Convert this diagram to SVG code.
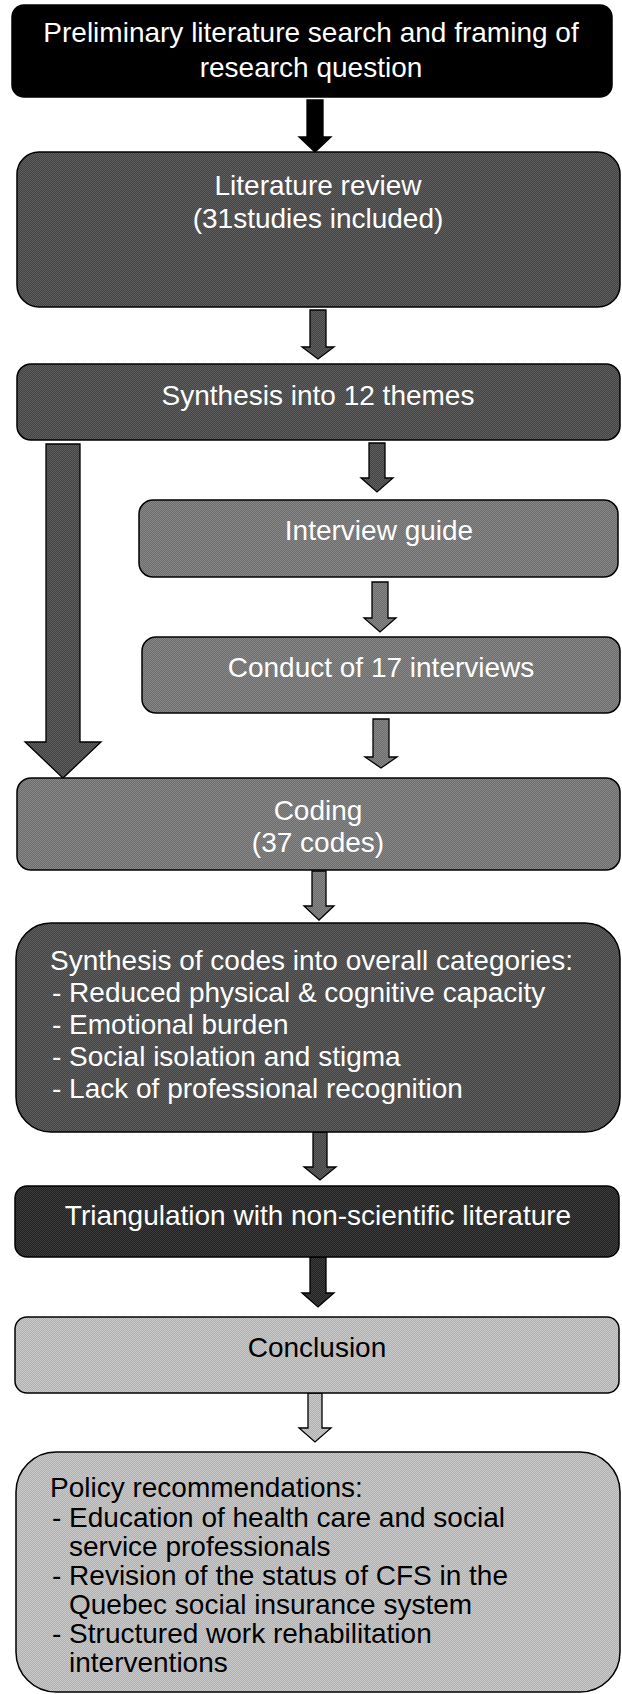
<svg xmlns="http://www.w3.org/2000/svg" width="622" height="1694" viewBox="0 0 622 1694">
<style>
.box{stroke:#000;stroke-width:1.5}
.t{font-family:"Liberation Sans",Arial,sans-serif;font-size:28px}
.w{fill:#fff}
.k{fill:#000}
.c{text-anchor:middle}
.arr{stroke:#000;stroke-width:1.3;stroke-linejoin:miter}
</style>
<defs>
<pattern id="pDark" width="2" height="2" patternUnits="userSpaceOnUse"><rect width="2" height="2" fill="#444"/><rect width="1" height="1" fill="#5e5e5e"/><rect x="1" y="1" width="1" height="1" fill="#5e5e5e"/></pattern>
<pattern id="pMid" width="2" height="2" patternUnits="userSpaceOnUse"><rect width="2" height="2" fill="#6c6c6c"/><rect width="1" height="1" fill="#888"/><rect x="1" y="1" width="1" height="1" fill="#888"/></pattern>
<pattern id="pLight" width="2" height="2" patternUnits="userSpaceOnUse"><rect width="2" height="2" fill="#b0b0b0"/><rect width="1" height="1" fill="#cacaca"/><rect x="1" y="1" width="1" height="1" fill="#cacaca"/></pattern>
<pattern id="pTri" width="2" height="2" patternUnits="userSpaceOnUse"><rect width="2" height="2" fill="#222"/><rect width="1" height="1" fill="#3c3c3c"/><rect x="1" y="1" width="1" height="1" fill="#3c3c3c"/></pattern>
</defs>
<rect width="622" height="1694" fill="#fff"/>
<g id="connectors">
<path class="arr" fill="#000" d="M307,100 L323,100 L323,137 L331,137 L315,152 L299,137 L307,137 Z"/>
<path class="arr" fill="url(#pDark)" d="M310,310 L326,310 L326,347 L334,347 L318,359 L302,347 L310,347 Z"/>
<path class="arr" fill="url(#pDark)" d="M46,444 L80,444 L80,742 L101,742 L63,778 L25,742 L46,742 Z"/>
<path class="arr" fill="url(#pDark)" d="M369,443 L385,443 L385,478 L393,478 L377,492 L361,478 L369,478 Z"/>
<path class="arr" fill="url(#pMid)" d="M372,582 L388,582 L388,618 L396,618 L380,632 L364,618 L372,618 Z"/>
<path class="arr" fill="url(#pMid)" d="M373,719 L389,719 L389,757 L397,757 L381,768 L365,757 L373,757 Z"/>
<path class="arr" fill="url(#pMid)" d="M312,871 L326,871 L326,906 L334,906 L319,920 L304,906 L312,906 Z"/>
<path class="arr" fill="url(#pDark)" d="M313,1132 L327,1132 L327,1167 L336,1167 L320,1180 L304,1167 L313,1167 Z"/>
<path class="arr" fill="url(#pTri)" d="M310,1257 L326,1257 L326,1293 L334,1293 L318,1307 L302,1293 L310,1293 Z"/>
<path class="arr" fill="url(#pLight)" d="M308,1393 L322,1393 L322,1428 L331,1428 L315,1442 L299,1428 L308,1428 Z"/>
</g>
<g id="n1">
<rect class="box" x="12" y="5" width="600" height="92" rx="12" fill="#000"/>
<text class="t w c" x="311" y="42">Preliminary literature search and framing of</text>
<text class="t w c" x="311" y="77">research question</text>
</g>
<g id="n2">
<rect class="box" x="17" y="152" width="603" height="155" rx="22" fill="url(#pDark)"/>
<text class="t w c" x="318" y="195">Literature review</text>
<text class="t w c" x="318" y="228">(31studies included)</text>
</g>
<g id="n3">
<rect class="box" x="17" y="364" width="603" height="76" rx="14" fill="url(#pDark)"/>
<text class="t w c" x="318" y="405">Synthesis into 12 themes</text>
</g>
<g id="n4">
<rect class="box" x="139" y="500" width="479" height="77" rx="14" fill="url(#pMid)"/>
<text class="t w c" x="379" y="540">Interview guide</text>
</g>
<g id="n5">
<rect class="box" x="142" y="637" width="478" height="76" rx="14" fill="url(#pMid)"/>
<text class="t w c" x="381" y="677">Conduct of 17 interviews</text>
</g>
<g id="n6">
<rect class="box" x="17" y="778" width="603" height="92" rx="14" fill="url(#pMid)"/>
<text class="t w c" x="318" y="820">Coding</text>
<text class="t w c" x="318" y="852">(37 codes)</text>
</g>
<g id="n7">
<rect class="box" x="16" y="923" width="604" height="209" rx="35" fill="url(#pDark)"/>
<text class="t w" x="50" y="970">Synthesis of codes into overall categories:</text>
<text class="t w" x="52" y="1002">- Reduced physical &amp; cognitive capacity</text>
<text class="t w" x="52" y="1034">- Emotional burden</text>
<text class="t w" x="52" y="1066">- Social isolation and stigma</text>
<text class="t w" x="52" y="1098">- Lack of professional recognition</text>
</g>
<g id="n8">
<rect class="box" x="15" y="1186" width="604" height="71" rx="12" fill="url(#pTri)"/>
<text class="t w c" x="318" y="1225">Triangulation with non-scientific literature</text>
</g>
<g id="n9">
<rect class="box" x="15" y="1317" width="604" height="76" rx="12" fill="url(#pLight)"/>
<text class="t k c" x="317" y="1357">Conclusion</text>
</g>
<g id="n10">
<rect class="box" x="16" y="1452" width="604" height="240" rx="40" fill="url(#pLight)"/>
<text class="t k" x="50" y="1497">Policy recommendations:</text>
<text class="t k" x="52" y="1527">- Education of health care and social</text>
<text class="t k" x="69" y="1556">service professionals</text>
<text class="t k" x="52" y="1585">- Revision of the status of CFS in the</text>
<text class="t k" x="69" y="1614">Quebec social insurance system</text>
<text class="t k" x="52" y="1643">- Structured work rehabilitation</text>
<text class="t k" x="69" y="1672">interventions</text>
</g>
</svg>
